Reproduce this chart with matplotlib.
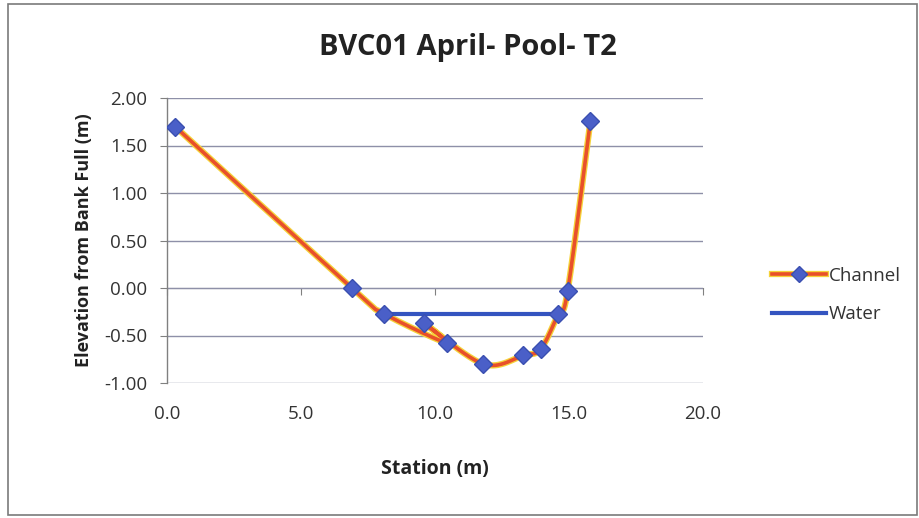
import numpy as np
import matplotlib
matplotlib.use("Agg")
import matplotlib.pyplot as plt
from matplotlib.lines import Line2D
from matplotlib.patches import Rectangle
from matplotlib.legend_handler import HandlerTuple

plt.rcParams['font.family'] = ['Open Sans', 'DejaVu Sans']

# Cross-section survey, in the order the shots were recorded
station = [0.3, 6.9, 8.1, 10.45, 9.6, 11.8, 13.3, 13.95, 14.6, 14.95, 15.8]
elevation = [1.70, 0.00, -0.27, -0.58, -0.37, -0.80, -0.71, -0.64, -0.27, -0.03, 1.76]
water_station = [8.1, 14.6]
water_elevation = [-0.27, -0.27]

x_ticks = [0, 5, 10, 15, 20]
y_ticks = [2.0, 1.5, 1.0, 0.5, 0.0, -0.5, -1.0]


def smooth_curve(xs, ys, sx, sy, n=40):
    """Bezier smoothing through every point, computed in pixel-like space."""
    px = np.asarray(xs) * sx
    py = np.asarray(ys) * sy
    pts = np.column_stack([px, py])
    out = [pts[0]]
    for i in range(len(pts) - 1):
        p0 = pts[i - 1] if i > 0 else pts[i]
        p1 = pts[i]
        p2 = pts[i + 1]
        p3 = pts[i + 2] if i + 2 < len(pts) else pts[i + 1]
        c1 = p1 + (p2 - p0) / 6.0
        c2 = p2 - (p3 - p1) / 6.0
        t = np.linspace(0, 1, n)[1:, None]
        seg = ((1 - t) ** 3) * p1 + 3 * ((1 - t) ** 2) * t * c1 + 3 * (1 - t) * t ** 2 * c2 + t ** 3 * p2
        out.extend(seg)
    out = np.array(out)
    return out[:, 0] / sx, out[:, 1] / sy


fig = plt.figure(figsize=(9.19, 5.18), dpi=100)
ax = fig.add_axes([167 / 919, 1 - 383 / 518, (703 - 167) / 919, (383 - 98) / 518])

ax.set_xlim(0, 20)
ax.set_ylim(-1.0, 2.0)

grid_col = '#8e90a8'
for yv in y_ticks:
    ax.axhline(yv, color=grid_col, lw=1.0, zorder=1)

for s in ['top', 'right', 'bottom']:
    ax.spines[s].set_visible(False)
ax.spines['left'].set_color('#808080')
ax.spines['left'].set_linewidth(1.0)

tick_fs = 13.5
ax.set_xticks(x_ticks)
ax.set_xticklabels([f"{v:.1f}" for v in x_ticks])
ax.tick_params(axis='x', length=0, pad=16, labelsize=tick_fs, labelcolor='#333333')
ax.set_yticks(y_ticks)
ax.set_yticklabels([f"{v:.2f}" for v in y_ticks])
ax.tick_params(axis='y', length=5, color='#808080', direction='out', labelsize=tick_fs,
               labelcolor='#333333', pad=9)

# x axis line crossing at zero elevation
sec = ax.secondary_xaxis(1 / 3)
sec.set_xticks(x_ticks)
sec.set_xticklabels([''] * len(x_ticks))
sec.tick_params(axis='x', direction='out', length=5, color='#808080')
sec.spines['bottom'].set_color('#808080')
sec.spines['top'].set_color('#808080')

sx_c, sy_c = 26.8, 95.0
cx, cy = smooth_curve(station, elevation, sx_c, sy_c)
ax.plot(cx, cy, color='#f5d23a', lw=4.5, zorder=3, solid_capstyle='round')
ax.plot(cx, cy, color='#e8502a', lw=2.6, zorder=4, solid_capstyle='round')
ax.plot(water_station, water_elevation, color='#3454c0', lw=3, zorder=5)
ax.plot(station, elevation, ls='none', marker='D', markersize=9,
        markerfacecolor='#4a5fc8', markeredgecolor='#3a4fb0', zorder=6)

ax.set_xlabel('Station (m)', fontsize=14, fontweight='bold', labelpad=26, color='#222222')
ax.set_ylabel('Elevation from Bank Full (m)', fontsize=13, fontweight='bold', labelpad=8,
              color='#222222')
fig.text(468 / 919, 1 - 47 / 518, 'BVC01 April- Pool- T2',
         ha='center', va='center', fontsize=21, fontweight='bold', color='#222222')

channel_handle = (
    Line2D([0], [0], color='#f5d23a', lw=4.5),
    Line2D([0], [0], color='#e8502a', lw=2.6, marker='D', markersize=8,
           markerfacecolor='#4a5fc8', markeredgecolor='#3a4fb0'),
)
water_handle = Line2D([0], [0], color='#3454c0', lw=3)
leg = fig.legend([channel_handle, water_handle], ['Channel', 'Water'], loc='center left',
                 bbox_to_anchor=(755 / 919, 1 - 295 / 518), frameon=False,
                 fontsize=13.5, handlelength=2.9, handletextpad=0.15, labelspacing=1.1,
                 handler_map={tuple: HandlerTuple(ndivide=1, pad=0)})
for t in leg.get_texts():
    t.set_color('#333333')

fig.patches.append(Rectangle((8 / 919, 3 / 518), 909 / 919, 511 / 518, transform=fig.transFigure,
                             fill=False, edgecolor='#7a7a7a', lw=1.2))

fig.savefig('out.png', dpi=100)
